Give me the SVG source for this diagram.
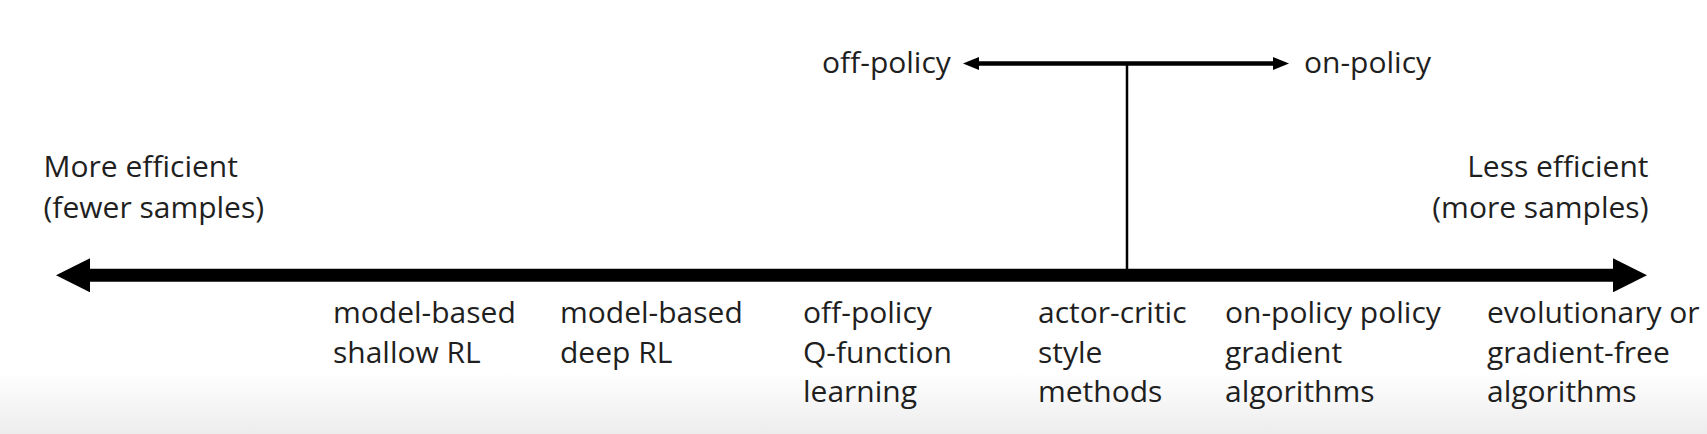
<svg xmlns="http://www.w3.org/2000/svg" width="1707" height="434" viewBox="0 0 1707 434">
<style>
text{font-family:"Open Sans","Noto Sans","Liberation Sans",sans-serif;font-size:30px;fill:#1f1f1f}
.end{text-anchor:end}
.ln{stroke:#000;fill:none}
</style>
<defs>
<linearGradient id="bg" x1="0" y1="0" x2="0" y2="1">
<stop offset="0" stop-color="#ffffff"/>
<stop offset="1" stop-color="#ededed"/>
</linearGradient>
<marker id="bigHead" markerUnits="userSpaceOnUse" markerWidth="34" markerHeight="34" refX="4" refY="17" orient="auto-start-reverse" viewBox="0 0 34 34">
<path d="M0,0 L34,17 L0,34 z" fill="#000"/>
</marker>
<marker id="smallHead" markerUnits="userSpaceOnUse" markerWidth="16" markerHeight="13" refX="3" refY="6.5" orient="auto-start-reverse" viewBox="0 0 16 13">
<path d="M0,0 L16,6.5 L0,13 z" fill="#000"/>
</marker>
</defs>
<rect width="1707" height="434" fill="#fff"/>
<rect y="372" width="1707" height="62" fill="url(#bg)"/>

<g id="connectors">
<line class="ln" x1="86" y1="275.3" x2="1617" y2="275.3" stroke-width="13" marker-start="url(#bigHead)" marker-end="url(#bigHead)"/>
<line class="ln" x1="976" y1="63.5" x2="1276" y2="63.5" stroke-width="4.5" marker-start="url(#smallHead)" marker-end="url(#smallHead)"/>
<line class="ln" x1="1127" y1="63.5" x2="1127" y2="270" stroke-width="2.5"/>
</g>

<g id="off-policy"><text x="822" y="73">off-policy</text></g>
<g id="on-policy"><text x="1304" y="73">on-policy</text></g>

<g id="more-efficient"><text x="43.5" y="177">More efficient<tspan x="43.5" dy="41">(fewer samples)</tspan></text></g>
<g id="less-efficient"><text class="end" x="1648.5" y="177">Less efficient<tspan x="1648.5" dy="41">(more samples)</tspan></text></g>

<g id="model-based-shallow"><text x="333" y="323">model-based<tspan x="333" dy="40">shallow RL</tspan></text></g>
<g id="model-based-deep"><text x="560" y="323">model-based<tspan x="560" dy="40">deep RL</tspan></text></g>
<g id="off-policy-q"><text x="803" y="323">off-policy<tspan x="803" dy="39.5">Q-function</tspan><tspan x="803" dy="39.5">learning</tspan></text></g>
<g id="actor-critic"><text x="1038" y="323">actor-critic<tspan x="1038" dy="39.5">style</tspan><tspan x="1038" dy="39.5">methods</tspan></text></g>
<g id="on-policy-pg"><text x="1225" y="323">on-policy policy<tspan x="1225" dy="39.5">gradient</tspan><tspan x="1225" dy="39.5">algorithms</tspan></text></g>
<g id="evolutionary"><text x="1487" y="323">evolutionary or<tspan x="1487" dy="39.5">gradient-free</tspan><tspan x="1487" dy="39.5">algorithms</tspan></text></g>
</svg>
